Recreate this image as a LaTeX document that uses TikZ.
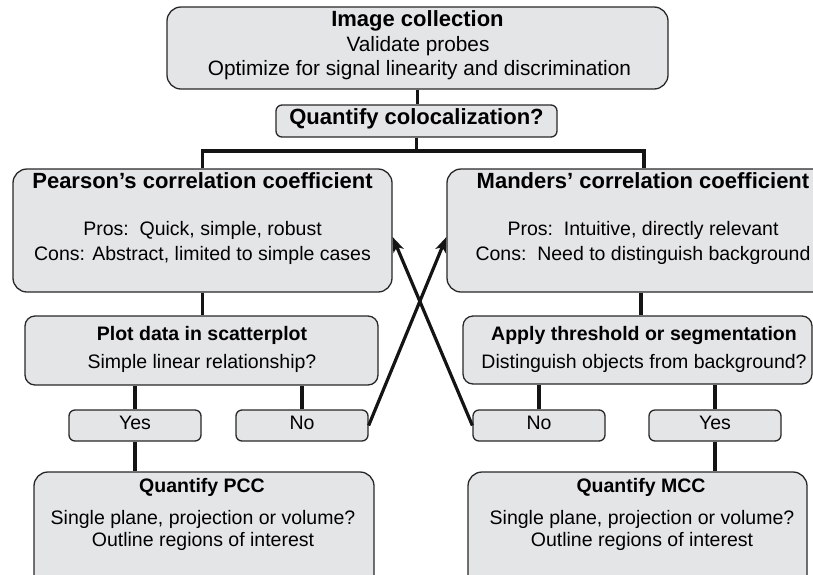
\documentclass[tikz,border=0pt]{standalone}
\usepackage{fontspec}
\setmainfont{Liberation Sans}
\usetikzlibrary{arrows.meta,calc}
\definecolor{boxfill}{RGB}{228,229,231}
\definecolor{boxline}{RGB}{40,40,40}
\begin{document}
\begin{tikzpicture}[x=1pt,y=-1pt,
  box/.style={draw=boxline,fill=boxfill,line width=1.3pt,rounded corners=14pt,inner sep=0pt},
  smallbox/.style={box,rounded corners=6pt},
  conn/.style={line width=3.2pt,draw=black!92},
  arr/.style={conn,-{Stealth[length=15pt,width=11pt,inset=4pt]}},
  tb/.style={font=\fontsize{22}{26}\selectfont\bfseries,inner sep=0pt,text height=0.72em,text depth=0pt},
  tbs/.style={font=\fontsize{19.5}{23}\selectfont\bfseries,inner sep=0pt,text height=0.72em,text depth=0pt},
  tn/.style={font=\fontsize{19.5}{23}\selectfont,inner sep=0pt,text height=0.72em,text depth=0pt},
  tnl/.style={tn,font=\fontsize{20.8}{24}\selectfont}]
\useasboundingbox (0,0) rectangle (813,574);
\clip (0,0) rectangle (813,574);

% boxes
\node[box,minimum width=501pt,minimum height=82pt] (top) at (417.5,48) {};
\node[smallbox,minimum width=281pt,minimum height=32pt,tb] (qc) at (416.5,121) {Quantify colocalization?};
\node[box,minimum width=379pt,minimum height=123pt] (pear) at (202.5,230.5) {};
\node[box,minimum width=388pt,minimum height=123pt] (mand) at (641,230.5) {};
\node[box,rounded corners=10pt,minimum width=353pt,minimum height=69pt] (plot) at (201.5,350.5) {};
\node[box,rounded corners=10pt,minimum width=349pt,minimum height=68pt] (apply) at (637.5,350) {};
\node[smallbox,minimum width=132pt,minimum height=31pt,tn] (yesL) at (135,425.5) {Yes};
\node[smallbox,minimum width=132pt,minimum height=31pt,tn] (noL) at (302,425.5) {No};
\node[smallbox,minimum width=132pt,minimum height=31pt,tn] (noR) at (539,425.5) {No};
\node[smallbox,minimum width=132pt,minimum height=31pt,tn] (yesR) at (715,425.5) {Yes};
\node[box,minimum width=340pt,minimum height=128pt] (pcc) at (204,536) {};
\node[box,minimum width=339pt,minimum height=128pt] (mcc) at (637.5,536) {};

% texts
\node[tb] (t1) at (417.5,23.3) {Image collection};
\node[tnl] (t2) at (418,48.3) {Validate probes};
\node[tnl] (t3) at (419.5,71.7) {Optimize for signal linearity and discrimination};

\node[tb] (p1) at (202.5,184.5) {Pearson’s correlation coefficient};
\node[tn] (p2) at (202.5,231.8) {Pros:\ \ Quick, simple, robust};
\node[tn] (p3) at (202.5,256.7) {Cons: Abstract, limited to simple cases};

\node[tb] (m1) at (643,184.5) {Manders’ correlation coefficient};
\node[tn] (m2) at (643,231.8) {Pros:\ \ Intuitive, directly relevant};
\node[tn] (m3) at (643,256.7) {Cons:\ \ Need to distinguish background};

\node[tbs] (s1) at (202,336.7) {Plot data in scatterplot};
\node[tn] (s2) at (202,365) {Simple linear relationship?};

\node[tbs] (a1) at (644,336.7) {Apply threshold or segmentation};
\node[tn] (a2) at (644,365) {Distinguish objects from background?};

\node[tbs] (q1) at (202,488.7) {Quantify PCC};
\node[tn] (q2) at (203,520.7) {Single plane, projection or volume?};
\node[tn] (q3) at (203,543.3) {Outline regions of interest};

\node[tbs] (r1) at (641,488.7) {Quantify MCC};
\node[tn] (r2) at (642,520.7) {Single plane, projection or volume?};
\node[tn] (r3) at (642,543.3) {Outline regions of interest};

% connectors
\coordinate (hR) at (644,151);
\draw[conn] (top.south) -- (top.south |- qc.north);
\draw[conn] (qc.south) -- (qc.south |- hR);
\draw[conn] (pear.north) |- (hR) -- (hR |- mand.north);
\draw[conn] (pear.south) -- (pear.south |- plot.north);
\draw[conn] (mand.south) -- (mand.south |- apply.north);
\draw[conn] (yesL.north) -- (yesL.north |- plot.south);
\draw[conn] (noL.north) -- (noL.north |- plot.south);
\draw[conn] (noR.north) -- (noR.north |- apply.south);
\draw[conn] (yesR.north) -- (yesR.north |- apply.south);
\draw[conn] (yesL.south) -- (yesL.south |- pcc.north);
\draw[conn] (yesR.south) -- (yesR.south |- mcc.north);
\draw[arr] (noL.east) -- ($(mand.west)+(0,6.5)$);
\draw[arr] (noR.west) -- ($(pear.east)+(0,6.5)$);
\end{tikzpicture}
\end{document}
